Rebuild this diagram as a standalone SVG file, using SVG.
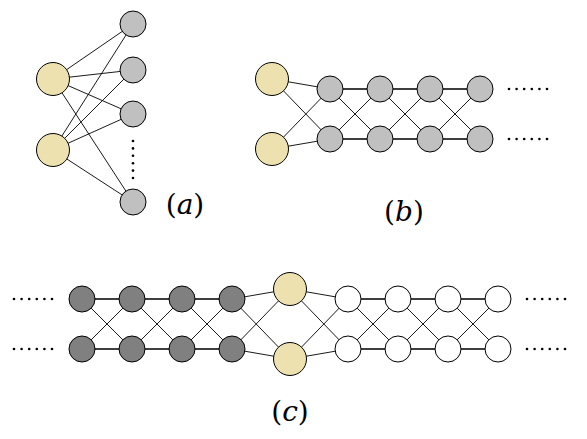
<svg xmlns="http://www.w3.org/2000/svg" width="587" height="439" viewBox="0 0 587 439">
<style>
.e{stroke:#000;stroke-width:0.9;fill:none}
.h{stroke:#000;stroke-width:1.3;fill:none}
.y{fill:#EEE1B0;stroke:#000;stroke-width:1}
.g{fill:#C0C0C0;stroke:#000;stroke-width:1}
.d{fill:#808080;stroke:#000;stroke-width:1}
.w{fill:#FFFFFF;stroke:#000;stroke-width:1}
.dot{fill:#000}
</style>
<g id="connectors">
<path class="e" d="M53,79L133,24M53,79L133,70M53,79L133,114M53,79L133,202M53,150L133,24M53,150L133,70M53,150L133,114M53,150L133,202"/>
<path class="e" d="M272,79L330,89M272,79L330,139M272,149L330,89M272,149L330,139"/>
<path class="h" d="M330,89H480M330,139H480"/>
<path class="e" d="M330,89L380,139M330,139L380,89M380,89L430,139M380,139L430,89M430,89L480,139M430,139L480,89"/>
<path class="h" d="M82,299H232M82,349H232M348,299H498M348,349H498"/>
<path class="e" d="M82,299L132,349M82,349L132,299M132,299L182,349M132,349L182,299M182,299L232,349M182,349L232,299"/>
<path class="e" d="M232,299L290,289M232,299L290,359M232,349L290,289M232,349L290,359"/>
<path class="e" d="M290,289L348,299M290,289L348,349M290,359L348,299M290,359L348,349"/>
<path class="e" d="M348,299L398,349M348,349L398,299M398,299L448,349M398,349L448,299M448,299L498,349M448,349L498,299"/>
</g>
<g id="a">
<circle id="a-y1" class="y" cx="53" cy="79" r="16.5"/>
<circle id="a-y2" class="y" cx="53" cy="150" r="16.5"/>
<circle id="a-g1" class="g" cx="133" cy="24" r="13"/>
<circle id="a-g2" class="g" cx="133" cy="70" r="13"/>
<circle id="a-g3" class="g" cx="133" cy="114" r="13"/>
<circle id="a-g4" class="g" cx="133" cy="202" r="13"/>
<g class="dot"><circle cx="133" cy="141" r="1.3"/><circle cx="133" cy="148.4" r="1.3"/><circle cx="133" cy="155.8" r="1.3"/><circle cx="133" cy="163.2" r="1.3"/><circle cx="133" cy="170.6" r="1.3"/><circle cx="133" cy="178" r="1.3"/></g>
<text x="185" y="214" font-family="'DejaVu Serif',serif" font-size="28" text-anchor="middle" fill="#000">(<tspan font-style="italic">a</tspan>)</text>
</g>
<g id="b">
<circle id="b-y1" class="y" cx="272" cy="79" r="16.5"/>
<circle id="b-y2" class="y" cx="272" cy="149" r="16.5"/>
<circle class="g" cx="330" cy="89" r="13"/><circle class="g" cx="380" cy="89" r="13"/><circle class="g" cx="430" cy="89" r="13"/><circle class="g" cx="480" cy="89" r="13"/>
<circle class="g" cx="330" cy="139" r="13"/><circle class="g" cx="380" cy="139" r="13"/><circle class="g" cx="430" cy="139" r="13"/><circle class="g" cx="480" cy="139" r="13"/>
<g class="dot">
<circle cx="509" cy="89" r="1.3"/><circle cx="516.6" cy="89" r="1.3"/><circle cx="524.2" cy="89" r="1.3"/><circle cx="531.8" cy="89" r="1.3"/><circle cx="539.4" cy="89" r="1.3"/><circle cx="547" cy="89" r="1.3"/>
<circle cx="509" cy="139" r="1.3"/><circle cx="516.6" cy="139" r="1.3"/><circle cx="524.2" cy="139" r="1.3"/><circle cx="531.8" cy="139" r="1.3"/><circle cx="539.4" cy="139" r="1.3"/><circle cx="547" cy="139" r="1.3"/>
</g>
<text x="404" y="221" font-family="'DejaVu Serif',serif" font-size="28" text-anchor="middle" fill="#000">(<tspan font-style="italic">b</tspan>)</text>
</g>
<g id="c">
<circle class="d" cx="82" cy="299" r="13"/><circle class="d" cx="132" cy="299" r="13"/><circle class="d" cx="182" cy="299" r="13"/><circle class="d" cx="232" cy="299" r="13"/>
<circle class="d" cx="82" cy="349" r="13"/><circle class="d" cx="132" cy="349" r="13"/><circle class="d" cx="182" cy="349" r="13"/><circle class="d" cx="232" cy="349" r="13"/>
<circle id="c-y1" class="y" cx="290" cy="289" r="16.5"/>
<circle id="c-y2" class="y" cx="290" cy="359" r="16.5"/>
<circle class="w" cx="348" cy="299" r="13"/><circle class="w" cx="398" cy="299" r="13"/><circle class="w" cx="448" cy="299" r="13"/><circle class="w" cx="498" cy="299" r="13"/>
<circle class="w" cx="348" cy="349" r="13"/><circle class="w" cx="398" cy="349" r="13"/><circle class="w" cx="448" cy="349" r="13"/><circle class="w" cx="498" cy="349" r="13"/>
<g class="dot">
<circle cx="14" cy="299" r="1.3"/><circle cx="21.6" cy="299" r="1.3"/><circle cx="29.2" cy="299" r="1.3"/><circle cx="36.8" cy="299" r="1.3"/><circle cx="44.4" cy="299" r="1.3"/><circle cx="52" cy="299" r="1.3"/>
<circle cx="14" cy="349" r="1.3"/><circle cx="21.6" cy="349" r="1.3"/><circle cx="29.2" cy="349" r="1.3"/><circle cx="36.8" cy="349" r="1.3"/><circle cx="44.4" cy="349" r="1.3"/><circle cx="52" cy="349" r="1.3"/>
<circle cx="527" cy="299" r="1.3"/><circle cx="534.6" cy="299" r="1.3"/><circle cx="542.2" cy="299" r="1.3"/><circle cx="549.8" cy="299" r="1.3"/><circle cx="557.4" cy="299" r="1.3"/><circle cx="565" cy="299" r="1.3"/>
<circle cx="527" cy="349" r="1.3"/><circle cx="534.6" cy="349" r="1.3"/><circle cx="542.2" cy="349" r="1.3"/><circle cx="549.8" cy="349" r="1.3"/><circle cx="557.4" cy="349" r="1.3"/><circle cx="565" cy="349" r="1.3"/>
</g>
<text x="290" y="421" font-family="'DejaVu Serif',serif" font-size="28" text-anchor="middle" fill="#000">(<tspan font-style="italic">c</tspan>)</text>
</g>
</svg>
